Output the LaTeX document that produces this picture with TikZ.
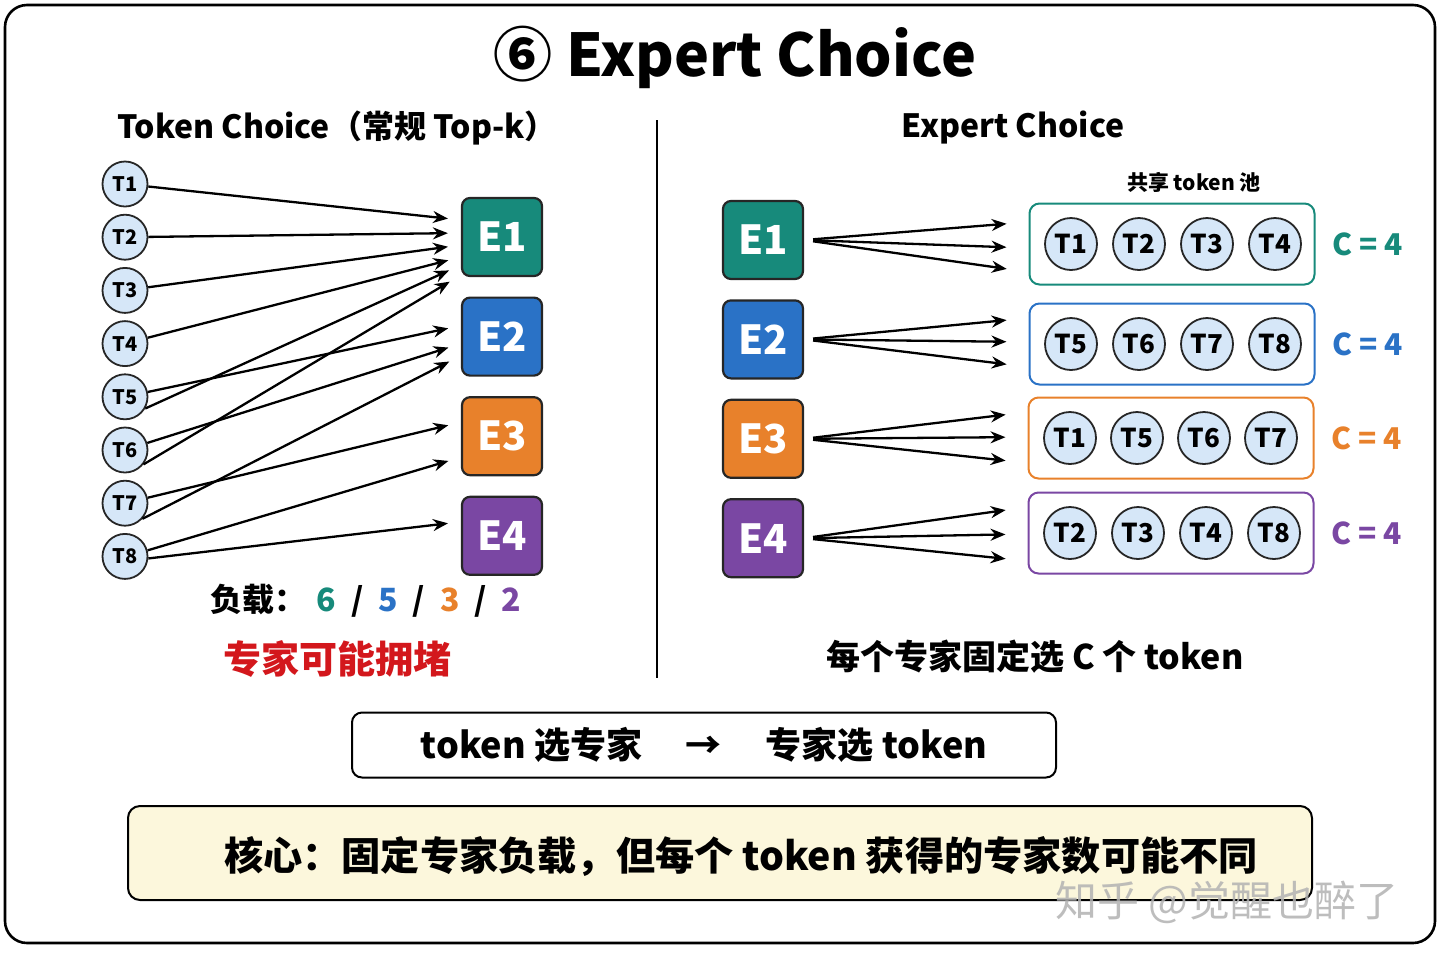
\documentclass[tikz,border=0pt]{standalone}
\usepackage{fontspec}
\setmainfont{Noto Sans CJK SC}
\usetikzlibrary{arrows.meta,positioning}

\definecolor{expA}{HTML}{178A7B}
\definecolor{expB}{HTML}{2A72C6}
\definecolor{expC}{HTML}{E8812B}
\definecolor{expD}{HTML}{7A47A3}
\definecolor{tokfill}{HTML}{D6E7F8}
\definecolor{warnred}{HTML}{D3171C}
\definecolor{corefill}{HTML}{FCF7DC}

\begin{document}
\begin{tikzpicture}[x=0.5pt, y=-0.5pt, >={Stealth[length=7.5pt, width=6pt]}]
    \tikzset{tok/.style= {draw=black!85, circle, fill=tokfill
    , line width=0.9pt
    , minimum size=22.5pt, inner sep=0pt
    , font=\bfseries\fontsize{10}{10}\selectfont
      }
    , pooltok/.style= {tok, minimum size=26pt
    , font=\bfseries\fontsize{13}{13}\selectfont
      }
    , expert/.style= {draw=black!85, fill=#1, rounded corners=4pt
    , line width=1.1pt, minimum width=40pt, minimum height=39pt
    , text=white, font=\bfseries\fontsize{20}{20}\selectfont
      }
    , pool/.style= {draw=#1, rounded corners=5pt, line width=1pt
    , minimum width=142.5pt, minimum height=40.5pt
      }
    , cap/.style= {text=#1, font=\bfseries\fontsize{15}{15}\selectfont}
    , link/.style= {->, line width=1.15pt}
    }
\useasboundingbox (0,0) rectangle (1440,960);
\draw[line width=1.3pt, rounded corners=11pt] (5,5) rectangle (1435,943);

\node[font=\bfseries\fontsize{29.5}{29.5}\selectfont] (title) at (735,57) {⑥ Expert Choice};
\node[font=\bfseries\fontsize{16}{16}\selectfont] (lefthead) at (337,128) {Token Choice（常规 Top-k）};
\node[font=\bfseries\fontsize{16}{16}\selectfont] (righthead) at (1013,128) {Expert Choice};
\draw[line width=0.8pt] (657,120) -- (657,678);

% token choice
\node[tok] (t1) at (125,184) {T1};
\node[tok, below of=t1, node distance=26.6pt] (t2) {T2};
\node[tok, below of=t2, node distance=26.6pt] (t3) {T3};
\node[tok, below of=t3, node distance=26.6pt] (t4) {T4};
\node[tok, below of=t4, node distance=26.6pt] (t5) {T5};
\node[tok, below of=t5, node distance=26.6pt] (t6) {T6};
\node[tok, below of=t6, node distance=26.6pt] (t7) {T7};
\node[tok, below of=t7, node distance=26.6pt] (t8) {T8};

\node[expert=expA] (e1) at (502,237) {E1};
\node[expert=expB, below of=e1, node distance=49.8pt] (e2) {E2};
\node[expert=expC, below of=e2, node distance=49.8pt] (e3) {E3};
\node[expert=expD, below of=e3, node distance=49.8pt] (e4) {E4};

 \path[link, shorten >=6.5pt]
  (t1) edge ([yshift=8.5pt]e1.west)
  (t2) edge ([yshift=2pt]e1.west)
  (t3) edge ([yshift=-4pt]e1.west)
  (t4) edge ([yshift=-10pt]e1.west)
  (t5.-30) edge ([yshift=-14pt]e1.west)
  (t6.-38) edge ([yshift=-19pt]e1.west)
  (t5) edge ([yshift=5.5pt]e2.west)
  (t6) edge ([yshift=-3.5pt]e2.west)
  (t7.-42) edge ([yshift=-9.5pt]e2.west)
  (t7) edge ([yshift=7pt]e3.west)
  (t8.15) edge ([yshift=-10.5pt]e3.west)
  (t8.-5) edge ([yshift=7pt]e4.west);

\node[font=\bfseries\fontsize{16}{16}\selectfont] (load) at (366,601)
  {负载：\hspace{5pt}\textcolor{expA}{6}\hspace{7.5pt}/\hspace{7.5pt}\textcolor{expB}{5}\hspace{7.5pt}/\hspace{7.5pt}\textcolor{expC}{3}\hspace{7.5pt}/\hspace{7.5pt}\textcolor{expD}{2}};
\node[text=warnred, font=\bfseries\fontsize{19}{19}\selectfont] (jam) at (337,659) {专家可能拥堵};

% expert choice
\node[font=\bfseries\fontsize{10.5}{10.5}\selectfont] (share) at (1194,182) {共享 token 池};

\node[expert=expA] (x1) at (763,240) {E1};
\node[expert=expB, below of=x1, node distance=49.7pt] (x2) {E2};
\node[expert=expC, below of=x2, node distance=49.7pt] (x3) {E3};
\node[expert=expD, below of=x3, node distance=49.7pt] (x4) {E4};

\node[pool=expA] (p1) at (1172,244) {};
\node[pool=expB] (p2) at (1172,344) {};
\node[pool=expC] (p3) at (1171,438) {};
\node[pool=expD] (p4) at (1171,533) {};

\node[pooltok] (p1a) at (1071,244) {T1};
\node[pooltok, right of=p1a, node distance=34pt] (p1b) {T2};
\node[pooltok, right of=p1b, node distance=34pt] (p1c) {T3};
\node[pooltok, right of=p1c, node distance=34pt] (p1d) {T4};
\node[pooltok] (p2a) at (1071,344) {T5};
\node[pooltok, right of=p2a, node distance=34pt] (p2b) {T6};
\node[pooltok, right of=p2b, node distance=34pt] (p2c) {T7};
\node[pooltok, right of=p2c, node distance=34pt] (p2d) {T8};
\node[pooltok] (p3a) at (1070,438) {T1};
\node[pooltok, right of=p3a, node distance=33.5pt] (p3b) {T5};
\node[pooltok, right of=p3b, node distance=33.5pt] (p3c) {T6};
\node[pooltok, right of=p3c, node distance=33.5pt] (p3d) {T7};
\node[pooltok] (p4a) at (1070,533) {T2};
\node[pooltok, right of=p4a, node distance=34pt] (p4b) {T3};
\node[pooltok, right of=p4b, node distance=34pt] (p4c) {T4};
\node[pooltok, right of=p4c, node distance=34pt] (p4d) {T8};

\node[cap=expA, right=5pt of p1] (c1) {C = 4};
\node[cap=expB, right=5pt of p2] (c2) {C = 4};
\node[cap=expC, right=5pt of p3] (c3) {C = 4};
\node[cap=expD, right=5pt of p4] (c4) {C = 4};

 \path[link, shorten <=4.5pt, shorten >=11pt]
  (x1.east) edge ([yshift=11pt]p1.west)
  (x1.east) edge ([yshift=-2pt]p1.west)
  (x1.east) edge ([yshift=-14pt]p1.west)
  (x2.east) edge ([yshift=13pt]p2.west)
  (x2.east) edge ([yshift=1pt]p2.west)
  (x2.east) edge ([yshift=-11.5pt]p2.west)
  (x3.east) edge ([yshift=13pt]p3.west)
  (x3.east) edge ([yshift=0.5pt]p3.west)
  (x3.east) edge ([yshift=-12.5pt]p3.west)
  (x4.east) edge ([yshift=13pt]p4.west)
  (x4.east) edge ([yshift=-0.5pt]p4.west)
  (x4.east) edge ([yshift=-14pt]p4.west);

\node[font=\bfseries\fontsize{17}{17}\selectfont] (fixed) at (1035,657) {每个专家固定选 C 个 token};

% bottom
\node[draw, rounded corners=5pt, line width=1pt, minimum width=352pt, minimum height=32.5pt
  , font=\bfseries\fontsize{18}{18}\selectfont] (flip) at (704,745)
  {token 选专家\hspace{22pt}→\hspace{22pt}专家选 token};
\node[draw, fill=corefill, rounded corners=6pt, line width=1pt
  , minimum width=592pt, minimum height=47pt] (core) at (720,853) {};
\node[font=\bfseries\fontsize{19.6}{19.6}\selectfont] (coretext) at (741,857)
  {核心：固定专家负载，但每个 token 获得的专家数可能不同};
\node[text=gray!60, opacity=0.85, font=\fontsize{21}{21}\selectfont] (mark) at (1227,902) {知乎 @觉醒也醉了};
\end{tikzpicture}
\end{document}
